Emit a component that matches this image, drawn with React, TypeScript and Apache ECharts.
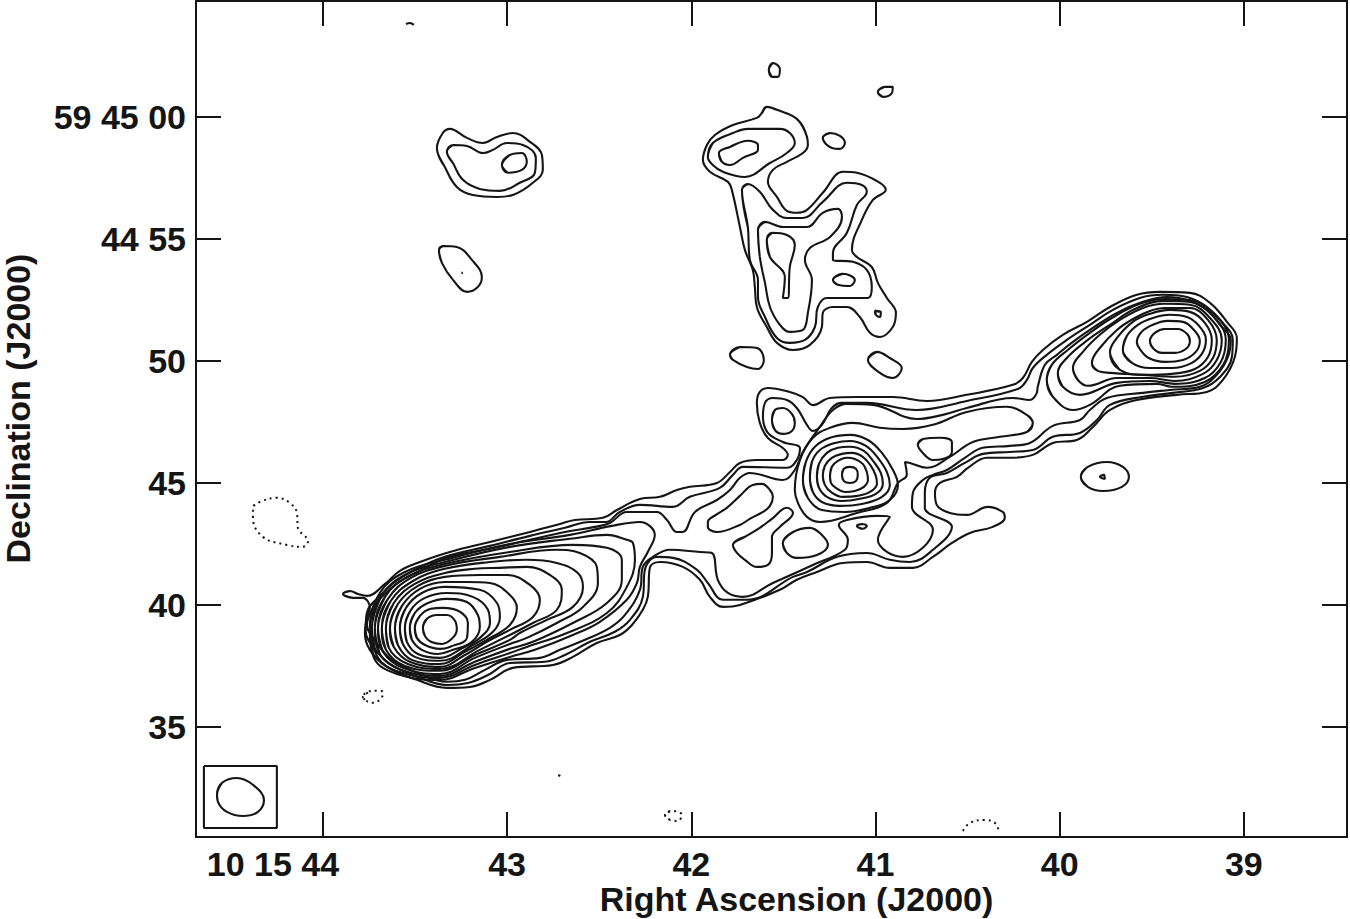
import React, { useEffect, useRef } from "react";
import * as echarts from "echarts";

type P = [number, number];

const raTicks = [44, 43, 42, 41, 40, 39];
const raTickLabels = ["10 15 44", "43", "42", "41", "40", "39"];
const decTicks = [60, 55, 50, 45, 40, 35];
const decTickLabels = ["59 45 00", "44 55", "50", "45", "40", "35"];

// Coordinates: [RA seconds past 10 15 00, Dec arcsec past 59 44 00]
const outerContour1: P[] = [[43.891,40.45],[43.853,40.57],[43.81,40.45],[43.761,40.37],[43.663,40.86],[43.582,41.4],[43.473,41.76],[43.311,42.17],[43.093,42.58],[42.876,42.99],[42.713,43.32],[42.632,43.48],[42.48,43.57],[42.404,43.89],[42.279,44.34],[42.17,44.43],[42.078,44.71],[42.008,44.84],[41.861,45],[41.79,45.45],[41.736,45.82],[41.644,45.94],[41.503,45.94],[41.476,46.15],[41.503,46.43],[41.584,46.84],[41.628,47.46],[41.644,48.28],[41.628,48.73],[41.584,48.89],[41.465,48.73],[41.394,48.52],[41.34,48.19],[41.247,48.48],[41.101,48.52],[40.906,48.52],[40.721,48.36],[40.504,48.61],[40.254,49.02],[40.2,49.3],[40.151,49.96],[40.091,50.45],[39.983,51.07],[39.852,51.6],[39.727,52.21],[39.581,52.71],[39.456,52.83],[39.293,52.79],[39.184,52.38],[39.092,51.6],[39.038,50.94],[39.049,50.16],[39.114,49.22],[39.201,48.73],[39.364,48.61],[39.581,48.4],[39.727,47.99],[39.82,47.29],[39.907,46.76],[40.037,46.64],[40.146,46.15],[40.27,46.03],[40.395,46.03],[40.498,45.62],[40.558,45.25],[40.65,45],[40.677,44.59],[40.667,44.1],[40.596,43.77],[40.504,43.69],[40.39,44.02],[40.309,43.81],[40.298,43.57],[40.363,43.2],[40.487,42.95],[40.585,42.54],[40.688,41.97],[40.797,41.52],[40.922,41.52],[41.047,41.76],[41.177,41.72],[41.318,41.35],[41.427,41.03],[41.519,40.62],[41.736,40],[41.828,39.92],[41.899,40.33],[41.953,41.03],[42.046,41.56],[42.17,41.76],[42.225,41.52],[42.236,40.33],[42.263,39.8],[42.322,39.18],[42.388,38.77],[42.513,38.44],[42.643,37.87],[42.751,37.54],[42.968,37.42],[43.093,36.93],[43.202,36.64],[43.327,36.6],[43.49,36.93],[43.653,37.46],[43.745,38.16],[43.772,38.85],[43.761,39.51],[43.745,39.88],[43.783,40.29],[43.837,40.29]];

const outerContour2: P[] = [[43.767,39.18],[43.756,39.8],[43.701,40.29],[43.609,40.94],[43.501,41.44],[43.338,41.97],[43.093,42.42],[42.876,42.83],[42.686,43.16],[42.55,43.4],[42.464,43.4],[42.388,43.81],[42.279,44.1],[42.1,44.02],[42.008,44.43],[41.845,44.8],[41.774,45.33],[41.72,45.66],[41.481,45.62],[41.427,45.94],[41.41,46.43],[41.503,46.68],[41.584,47.05],[41.611,47.71],[41.6,48.28],[41.557,48.48],[41.481,48.4],[41.427,48.07],[41.372,47.38],[41.34,47.13],[41.291,47.38],[41.237,48.07],[41.182,48.28],[41.047,48.28],[40.776,47.99],[40.504,48.36],[40.227,48.85],[40.178,49.22],[40.146,49.71],[40.07,50.25],[39.961,50.86],[39.836,51.48],[39.711,52.09],[39.565,52.58],[39.44,52.71],[39.309,52.62],[39.201,52.21],[39.114,51.56],[39.06,50.86],[39.065,50.16],[39.13,49.34],[39.222,48.89],[39.386,48.69],[39.548,48.53],[39.727,48.2],[39.798,47.58],[39.89,47.05],[40.037,46.89],[40.146,46.35],[40.27,46.27],[40.417,46.19],[40.515,45.82],[40.612,45.41],[40.705,45.21],[40.732,44.59],[40.732,43.98],[40.585,43.2],[40.688,42.26],[40.813,41.76],[40.922,41.85],[41.047,42.13],[41.209,41.97],[41.372,41.35],[41.448,41.15],[41.698,40.21],[41.828,40.21],[41.91,40.9],[41.969,41.44],[42.1,41.93],[42.187,41.97],[42.252,41.44],[42.263,40.33],[42.333,39.39],[42.415,38.9],[42.55,38.49],[42.686,37.95],[42.795,37.67],[42.985,37.62],[43.104,37.13],[43.213,36.8],[43.327,36.72],[43.484,37.05],[43.636,37.58],[43.723,38.24],[43.767,38.9]];

const outerContour3: P[] = [[43.761,39.18],[43.734,39.8],[43.68,40.33],[43.593,40.9],[43.484,41.35],[43.327,41.93],[43.093,42.3],[42.876,42.67],[42.686,42.99],[42.523,43.2],[42.442,43.36],[42.35,43.81],[42.187,43.81],[42.132,43.48],[42.078,42.99],[42.046,42.99],[41.98,43.81],[41.861,44.3],[41.79,44.71],[41.736,45.21],[41.682,45.41],[41.503,45.12],[41.438,45.53],[41.394,46.27],[41.302,47.3],[41.231,47.99],[41.155,48.24],[41.014,48.2],[40.775,47.62],[40.634,47.79],[40.504,48.07],[40.254,48.48],[40.162,48.4],[40.124,48.69],[40.119,48.94],[40.08,49.84],[40.015,50.25],[39.928,50.78],[39.82,51.35],[39.689,51.97],[39.548,52.42],[39.418,52.62],[39.309,52.5],[39.201,52.09],[39.13,51.48],[39.071,50.86],[39.087,50.16],[39.147,49.43],[39.239,48.94],[39.402,48.81],[39.548,48.69],[39.744,48.48],[39.836,47.99],[39.89,47.58],[40.037,47.34],[40.162,46.64],[40.27,46.52],[40.417,46.44],[40.515,46.03],[40.612,45.53],[40.688,45.33],[40.743,45.12],[40.797,44.59],[40.802,44.02],[40.688,43.08],[40.743,42.34],[40.851,41.97],[40.938,42.17],[40.987,42.67],[40.922,43.61],[40.992,43.65],[41.155,43.48],[41.199,43.28],[41.15,42.67],[41.166,42.26],[41.34,41.64],[41.557,40.9],[41.72,40.33],[41.801,40.49],[41.856,41.03],[41.888,42.13],[41.953,42.17],[42.116,42.26],[42.208,41.97],[42.263,41.56],[42.279,40.62],[42.36,39.59],[42.442,39.06],[42.577,38.57],[42.713,38.16],[42.822,37.83],[43.001,37.75],[43.12,37.34],[43.229,36.93],[43.327,36.85],[43.473,37.17],[43.625,37.75],[43.701,38.36],[43.75,38.9]];

const ridgeAndCore: P[] = [[40.146,47.46],[40.178,47.09],[40.325,46.89],[40.471,46.68],[40.596,46.07],[40.721,45.62],[40.813,45.82],[40.84,45.86],[40.83,45.33],[40.878,45],[40.938,44.18],[41.101,43.77],[41.302,43.4],[41.372,43.61],[41.421,44.18],[41.438,44.71],[41.41,45.94],[41.34,46.85],[41.247,47.26],[41.123,47.46],[40.976,47.26],[40.851,47.21],[40.688,47.38],[40.504,47.91],[40.287,48.12],[40.178,47.79]];

const coreRing1: P[] = [[41.182,45.33],[41.172,45.58],[41.139,45.66],[41.106,45.58],[41.096,45.33],[41.106,45.08],[41.139,45],[41.172,45.08]];
const coreRing2: P[] = [[41.247,45.29],[41.237,45.66],[41.204,45.9],[41.155,46.03],[41.112,45.98],[41.069,45.78],[41.047,45.45],[41.041,45.12],[41.063,44.84],[41.112,44.67],[41.166,44.63],[41.215,44.8],[41.242,45]];
const coreRing3: P[] = [[41.286,45.29],[41.275,45.7],[41.237,46.03],[41.182,46.19],[41.128,46.23],[41.069,46.07],[41.025,45.7],[40.998,45.29],[40.992,44.96],[41.03,44.63],[41.096,44.47],[41.177,44.43],[41.242,44.63],[41.275,44.92]];
const coreRing4: P[] = [[41.318,45.25],[41.307,45.78],[41.264,46.23],[41.204,46.44],[41.139,46.48],[41.063,46.31],[41.009,45.86],[40.971,45.41],[40.96,44.96],[40.998,44.55],[41.085,44.35],[41.182,44.26],[41.264,44.43],[41.307,44.8]];
const coreRing5: P[] = [[41.356,45.21],[41.345,45.86],[41.302,46.35],[41.22,46.64],[41.139,46.72],[41.052,46.52],[40.987,46.03],[40.938,45.45],[40.922,44.92],[40.965,44.43],[41.074,44.14],[41.193,44.06],[41.291,44.22],[41.34,44.63]];
const coreRing6: P[] = [[41.394,45.12],[41.378,45.86],[41.329,46.48],[41.247,46.85],[41.139,46.97],[41.041,46.76],[40.965,46.23],[40.905,45.53],[40.878,44.92],[40.922,44.3],[41.03,43.98],[41.166,43.81],[41.291,43.89],[41.367,44.38]];

const islandA: P[] = [[41.91,43.4],[41.866,43.69],[41.807,43.98],[41.736,44.47],[41.666,44.92],[41.617,44.96],[41.573,44.71],[41.557,44.43],[41.573,44.06],[41.611,43.81],[41.682,43.53],[41.736,43.28],[41.861,42.99],[41.91,43.19]];
const islandB: P[] = [[41.774,42.46],[41.709,42.79],[41.628,43.16],[41.562,43.53],[41.481,43.98],[41.448,43.77],[41.519,43.2],[41.562,42.79],[41.562,42.13],[41.584,41.64],[41.644,41.56],[41.709,41.85],[41.752,42.13]];
const islandC: P[] = [[41.503,42.54],[41.448,42.99],[41.356,43.16],[41.291,42.87],[41.258,42.46],[41.318,42.05],[41.427,41.93],[41.481,42.13]];
const islandRing: P[] = [[41.562,47.58],[41.546,47.99],[41.503,48.07],[41.454,47.83],[41.438,47.46],[41.454,47.13],[41.503,47.01],[41.546,47.17]];
const islandD: P[] = [[40.77,46.56],[40.743,46.8],[40.65,46.85],[40.585,46.68],[40.585,46.27],[40.634,45.98],[40.688,45.94],[40.743,46.23]];
const islandTiny: P[] = [[41.101,43.24],[41.074,43.32],[41.047,43.24],[41.069,43.12]];

const leftRing1: P[] = [[43.457,39.06],[43.435,39.43],[43.381,39.59],[43.327,39.59],[43.283,39.35],[43.273,38.98],[43.3,38.61],[43.354,38.4],[43.414,38.49],[43.446,38.73]];
const leftRing2: P[] = [[43.501,39.06],[43.473,39.55],[43.414,39.84],[43.349,39.88],[43.256,39.72],[43.213,39.26],[43.218,38.65],[43.311,38.28],[43.365,38.2],[43.446,38.36],[43.49,38.65]];
const leftRing3: P[] = [[43.528,39.06],[43.501,39.67],[43.43,40.08],[43.327,40.25],[43.218,40.12],[43.159,39.59],[43.148,39.1],[43.191,38.49],[43.294,38.16],[43.376,37.99],[43.463,38.16],[43.517,38.57]];
const leftRing4: P[] = [[43.555,39.06],[43.522,39.8],[43.446,40.29],[43.327,40.49],[43.186,40.33],[43.104,39.8],[43.093,39.26],[43.148,38.65],[43.24,38.24],[43.365,37.83],[43.484,37.99],[43.544,38.49]];
const leftRing5: P[] = [[43.582,39.06],[43.549,39.88],[43.463,40.49],[43.338,40.74],[43.148,40.62],[43.055,40.08],[43.039,39.51],[43.077,38.9],[43.186,38.36],[43.365,37.71],[43.501,37.87],[43.566,38.4]];
const leftRing6: P[] = [[43.609,39.06],[43.571,39.96],[43.473,40.66],[43.338,40.94],[43.218,40.94],[43.093,40.9],[42.985,40.41],[42.947,39.88],[42.985,39.18],[43.11,38.57],[43.229,38.08],[43.365,37.58],[43.517,37.75],[43.593,38.36]];
const leftRing7: P[] = [[43.636,39.06],[43.593,40.04],[43.484,40.78],[43.338,41.15],[43.148,41.23],[43.001,41.23],[42.876,40.82],[42.822,40.21],[42.86,39.51],[42.985,38.98],[43.11,38.49],[43.229,37.95],[43.365,37.46],[43.528,37.67],[43.615,38.28]];
const leftRing8: P[] = [[43.658,39.06],[43.615,40.08],[43.501,40.86],[43.338,41.31],[43.175,41.48],[43.039,41.52],[42.893,41.56],[42.768,41.23],[42.703,40.62],[42.73,39.8],[42.86,39.26],[42.985,38.77],[43.148,38.16],[43.365,37.38],[43.539,37.58],[43.642,38.24]];
const leftRing9: P[] = [[43.68,39.06],[43.631,40.17],[43.511,40.98],[43.338,41.48],[43.093,41.76],[42.893,41.85],[42.73,41.72],[42.616,41.31],[42.588,40.74],[42.643,39.92],[42.784,39.39],[42.931,38.85],[42.985,38.57],[43.175,37.95],[43.365,37.3],[43.555,37.5],[43.658,38.16]];
const leftRing10: P[] = [[43.701,39.06],[43.647,40.25],[43.522,41.11],[43.338,41.6],[43.039,41.97],[42.73,42.26],[42.605,42.13],[42.513,41.56],[42.507,40.9],[42.588,39.92],[42.73,39.26],[42.893,38.65],[42.985,38.4],[43.175,37.83],[43.365,37.17],[43.566,37.42],[43.674,38.08]];
const leftRing11: P[] = [[43.718,39.06],[43.663,40.33],[43.533,41.19],[43.338,41.68],[42.985,42.17],[42.643,42.46],[42.458,42.34],[42.377,41.85],[42.377,41.03],[42.458,40.08],[42.643,39.26],[42.86,38.49],[42.985,38.2],[43.175,37.67],[43.365,37.09],[43.577,37.34],[43.691,37.99]];
const leftRing12: P[] = [[43.734,39.06],[43.68,40.41],[43.544,41.27],[43.338,41.76],[42.985,42.38],[42.659,42.71],[42.458,42.87],[42.35,42.67],[42.317,42.54],[42.306,41.85],[42.35,40.74],[42.458,39.67],[42.675,38.85],[42.893,38.28],[42.985,38.03],[43.175,37.54],[43.365,37.01],[43.587,37.26],[43.707,37.91]];
const leftRing13: P[] = [[43.745,39.06],[43.691,40.49],[43.555,41.35],[43.338,41.85],[42.985,42.5],[42.659,42.87],[42.431,43.24],[42.279,43.4],[42.198,42.87],[42.236,42.17],[42.279,41.56],[42.295,40.9],[42.35,40.21],[42.496,39.31],[42.643,38.77],[42.849,38.16],[42.985,37.87],[43.175,37.42],[43.365,36.93],[43.598,37.17],[43.723,37.83]];

const rightRing1: P[] = [[39.51,50.82],[39.483,51.15],[39.429,51.31],[39.358,51.31],[39.309,51.11],[39.293,50.82],[39.315,50.49],[39.375,50.33],[39.445,50.33],[39.489,50.49]];
const rightRing2: P[] = [[39.581,50.78],[39.554,51.2],[39.494,51.48],[39.413,51.64],[39.331,51.6],[39.271,51.27],[39.239,50.82],[39.261,50.37],[39.331,50.04],[39.429,49.96],[39.516,50.12],[39.565,50.49]];
const rightRing3: P[] = [[39.657,50.45],[39.635,51.03],[39.575,51.48],[39.494,51.76],[39.402,51.89],[39.309,51.8],[39.244,51.44],[39.206,50.86],[39.228,50.29],[39.293,49.88],[39.391,49.71],[39.51,49.71],[39.608,49.92]];
const rightRing4: P[] = [[39.727,50.37],[39.689,50.94],[39.603,51.6],[39.51,51.93],[39.402,52.09],[39.293,52.01],[39.212,51.56],[39.174,50.86],[39.195,50.16],[39.266,49.67],[39.391,49.47],[39.538,49.43],[39.673,49.63]];
const rightRing5: P[] = [[39.825,49.92],[39.782,50.53],[39.689,51.27],[39.592,51.76],[39.51,52.05],[39.429,52.17],[39.293,52.17],[39.195,51.68],[39.147,50.86],[39.168,50.12],[39.239,49.59],[39.375,49.35],[39.548,49.43],[39.727,49.51],[39.793,49.59]];
const rightRing6: P[] = [[39.928,49.71],[39.874,50.37],[39.782,51.07],[39.673,51.68],[39.548,52.17],[39.429,52.34],[39.293,52.3],[39.184,51.76],[39.12,50.86],[39.147,50.04],[39.222,49.47],[39.375,49.18],[39.51,49.3],[39.689,49.3],[39.847,48.98],[39.901,49.22]];
const rightRing7: P[] = [[40.01,49.51],[39.956,50.16],[39.847,50.86],[39.727,51.48],[39.592,52.13],[39.429,52.46],[39.293,52.42],[39.174,51.89],[39.098,50.86],[39.125,49.96],[39.212,49.3],[39.375,49.06],[39.51,49.18],[39.689,49.1],[39.89,48.61],[39.983,48.94]];
const rightRing8: P[] = [[40.07,49.22],[40.043,49.84],[39.956,50.45],[39.836,51.15],[39.717,51.76],[39.565,52.34],[39.429,52.54],[39.293,52.5],[39.168,51.97],[39.081,50.86],[39.109,49.88],[39.212,49.14],[39.391,48.94],[39.472,49.06],[39.673,48.98],[39.836,48.2],[39.928,47.99],[40.037,48.53]];

const upperOuter: P[] = [[41.59,60.41],[41.535,60.29],[41.427,59.92],[41.372,59.18],[41.367,58.85],[41.394,58.52],[41.481,58.16],[41.557,57.83],[41.584,57.34],[41.535,56.72],[41.481,56.15],[41.427,56.07],[41.372,56.19],[41.286,56.89],[41.177,57.75],[41.101,57.71],[40.976,57.3],[40.944,57.01],[41.014,56.6],[41.074,55.78],[41.128,54.55],[41.101,54.26],[41.02,53.85],[40.987,53.2],[40.938,52.58],[40.889,51.97],[40.906,51.39],[40.976,50.98],[41.03,51.15],[41.085,51.8],[41.155,52.21],[41.231,52.21],[41.286,51.97],[41.291,51.39],[41.356,50.66],[41.448,50.45],[41.535,50.74],[41.59,51.39],[41.644,52.21],[41.655,53.03],[41.666,53.73],[41.709,54.55],[41.736,55.49],[41.78,57.01],[41.801,57.34],[41.899,57.75],[41.937,58.24],[41.915,58.85],[41.872,59.26],[41.774,59.67],[41.644,59.96],[41.617,60.16]];
const upperBlobMiddle: P[] = [[41.91,58.36],[41.883,58.93],[41.774,59.34],[41.693,59.51],[41.519,59.51],[41.465,59.34],[41.438,58.93],[41.481,58.52],[41.573,58.11],[41.709,57.54],[41.828,57.75],[41.883,58.03]];
const upperBlobInner: P[] = [[41.85,58.52],[41.79,58.77],[41.693,59.02],[41.638,58.85],[41.638,58.65],[41.72,58.32],[41.79,58.03],[41.834,58.16]];
const upperRidge: P[] = [[41.725,57.01],[41.693,57.25],[41.628,56.93],[41.557,56.19],[41.481,55.86],[41.394,55.86],[41.286,56.52],[41.155,57.3],[41.074,57.21],[41.047,56.93],[41.101,56.39],[41.155,55.25],[41.231,54.43],[41.231,54.14],[41.123,54.06],[41.047,53.73],[41.02,53.03],[41.041,52.58],[41.155,52.58],[41.264,52.58],[41.313,52.21],[41.329,51.39],[41.383,50.86],[41.465,50.74],[41.535,50.94],[41.6,51.8],[41.638,52.62],[41.638,53.32],[41.682,54.14],[41.693,55.49]];
const upperInner: P[] = [[41.638,55.37],[41.6,55.7],[41.503,55.49],[41.372,55.49],[41.286,56.07],[41.204,56.23],[41.182,55.9],[41.247,55.08],[41.356,54.63],[41.383,54.14],[41.345,53.32],[41.367,51.97],[41.394,51.27],[41.465,51.19],[41.519,51.48],[41.573,52.21],[41.6,53.2],[41.628,54.26]];
const upperCentre: P[] = [[41.59,54.96],[41.562,55.25],[41.481,55.16],[41.438,54.75],[41.465,53.85],[41.476,52.58],[41.503,52.58],[41.492,53.44],[41.573,54.26]];
const upperOval: P[] = [[41.231,53.32],[41.177,53.57],[41.112,53.32],[41.139,53.07],[41.204,53.12]];
const pinchUpper: P[] = [[41.003,52.05],[40.971,52.01],[40.976,51.8],[40.998,51.89]];
const northPatch: P[] = [[41.579,61.93],[41.557,62.21],[41.519,61.97],[41.53,61.64],[41.562,61.64]];
const northRight: P[] = [[40.987,61.02],[40.949,61.23],[40.906,61.23],[40.911,60.98],[40.96,60.82]];
const northMiddle: P[] = [[41.286,59.14],[41.247,59.34],[41.193,59.22],[41.166,58.93],[41.193,58.69],[41.237,58.73],[41.269,58.89]];
const ovalLowerLeft: P[] = [[41.79,50.25],[41.736,50.57],[41.644,50.53],[41.606,50.04],[41.638,49.67],[41.698,49.75],[41.774,50.04]];
const ovalLowerRight: P[] = [[41.041,50.04],[40.992,50.37],[40.922,50.12],[40.857,49.71],[40.906,49.3],[40.976,49.51]];

const nwOuter: P[] = [[43.381,58.73],[43.349,59.34],[43.311,59.51],[43.218,59.14],[43.131,58.93],[43.055,59.18],[42.969,59.34],[42.876,58.98],[42.811,58.44],[42.806,57.83],[42.86,57.3],[42.969,56.8],[43.055,56.72],[43.186,56.8],[43.273,57.13],[43.338,57.95]];
const nwMiddle: P[] = [[43.327,58.57],[43.294,58.85],[43.218,58.81],[43.131,58.52],[43.077,58.65],[43.001,58.93],[42.914,58.85],[42.844,58.32],[42.849,57.71],[42.931,57.3],[43.039,56.97],[43.148,57.05],[43.24,57.42],[43.294,58.11]];
const nwInner: P[] = [[43.028,58.03],[42.985,58.44],[42.92,58.52],[42.893,58.16],[42.92,57.83],[42.996,57.71]];
const teardrop: P[] = [[43.37,54.55],[43.349,54.71],[43.273,54.67],[43.191,54.14],[43.137,53.44],[43.159,53.03],[43.218,52.83],[43.294,53.32],[43.354,54.02]];
const eastOval: P[] = [[39.885,45.25],[39.847,45.66],[39.744,45.86],[39.657,45.66],[39.624,45.25],[39.662,44.84],[39.765,44.67],[39.847,44.84]];
const eastOvalDot: P[] = [[39.782,45.25],[39.76,45.33],[39.755,45.16]];

const teardropDot: P[] = [[43.248,53.61],[43.24,53.61]];
const topSpeck: P[] = [[43.549,63.81],[43.528,63.85],[43.506,63.77]];
const southSpeck: P[] = [[42.722,33.03],[42.711,32.99]];

const negativeWest: P[] = [[44.38,43.98],[44.342,44.22],[44.25,44.39],[44.179,44.18],[44.141,43.77],[44.136,43.16],[44.081,42.62],[44.109,42.38],[44.195,42.46],[44.326,42.79],[44.38,43.57]];
const negativeBelowLobe: P[] = [[43.783,36.23],[43.734,36.48],[43.674,36.44],[43.685,36.15],[43.734,35.99],[43.772,36.11]];
const negativeSouthMiddle: P[] = [[42.143,31.4],[42.105,31.56],[42.051,31.4],[42.073,31.15],[42.116,31.19]];
const negativeSouthEdge: P[] = [[40.525,30.74],[40.487,31.07],[40.406,31.19],[40.352,31.07],[40.33,30.74]];

const beamBox: P[] = [[44.646,33.4],[44.25,33.4],[44.25,30.86],[44.646,30.86],[44.646,33.4]];
const beamEllipse: P[] = [[44.575,32.22],[44.548,32.71],[44.467,32.91],[44.38,32.63],[44.32,32.01],[44.353,31.52],[44.434,31.35],[44.521,31.52],[44.57,31.93]];

const closedContours: P[][] = [
  outerContour1, outerContour2, outerContour3, ridgeAndCore,
  coreRing1, coreRing2, coreRing3, coreRing4, coreRing5, coreRing6,
  islandA, islandB, islandC, islandRing, islandD, islandTiny,
  leftRing1, leftRing2, leftRing3, leftRing4, leftRing5, leftRing6, leftRing7,
  leftRing8, leftRing9, leftRing10, leftRing11, leftRing12, leftRing13,
  rightRing1, rightRing2, rightRing3, rightRing4, rightRing5, rightRing6, rightRing7, rightRing8,
  upperOuter, upperBlobMiddle, upperBlobInner, upperRidge, upperInner, upperCentre, upperOval,
  pinchUpper, northPatch, northRight, northMiddle, ovalLowerLeft, ovalLowerRight,
  nwOuter, nwMiddle, nwInner, teardrop, eastOval, eastOvalDot, beamEllipse,
];
const specks: P[][] = [teardropDot, topSpeck, southSpeck];
const negativeContours: P[][] = [negativeWest, negativeBelowLobe, negativeSouthMiddle];
const openNegativeContours: P[][] = [negativeSouthEdge];

const INK = "#151515";
const FONT = "'Liberation Sans', Arial, sans-serif";

// Wrap a ring one point past each end so the smoothing has no corner at the seam.
const wrapLoop = (pts: P[]): P[] => [pts[pts.length - 1], ...pts, pts[0], pts[1]];

const contourSeries = (pts: P[], dotted: boolean, smooth: number | boolean = 0.4) => ({
  type: "line",
  data: pts,
  smooth,
  symbol: "none",
  silent: true,
  clip: false,
  lineStyle: dotted
    ? { color: INK, width: 2, type: [2, 4] as number[] }
    : { color: INK, width: 2.1 },
});

export default function App() {
  const ref = useRef<HTMLDivElement>(null);
  useEffect(() => {
    const chart = echarts.init(ref.current!, undefined, { renderer: "svg" });
    const baseX = { type: "value", inverse: true, min: 38.44, max: 44.689, scale: true, splitLine: { show: false } };
    const baseY = { type: "value", min: 30.49, max: 64.75, scale: true, splitLine: { show: false } };
    const line = { show: true, onZero: false, lineStyle: { color: INK, width: 2 } };
    const tick = { show: true, inside: true, length: 25, lineStyle: { color: INK, width: 2 } };
    chart.setOption({
      animation: false,
      backgroundColor: "#fff",
      grid: { left: 196, right: 3, top: 1, bottom: 82, containLabel: false, outerBoundsMode: "none" },
      xAxis: [
        {
          ...baseX,
          position: "bottom",
          axisLine: line,
          axisTick: { ...tick, customValues: raTicks },
          axisLabel: {
            show: true,
            customValues: raTicks,
            margin: 10,
            fontFamily: FONT,
            fontWeight: "bold",
            fontSize: 34,
            color: INK,
            formatter: (v: number) => {
              const t = raTickLabels[raTicks.indexOf(Math.round(v))] ?? "";
              return t.length > 2 ? `{first|${t}}` : t;
            },
            rich: { first: { fontFamily: FONT, fontWeight: "bold", fontSize: 34, color: INK, padding: [0, 100, 0, 0] } },
          },
          name: "Right Ascension (J2000)",
          nameLocation: "middle",
          nameGap: 45,
          nameMoveOverlap: false,
          nameTextStyle: { fontFamily: FONT, fontWeight: "bold", fontSize: 34, color: INK, padding: [0, 0, 0, 50] },
        },
        {
          ...baseX,
          position: "top",
          axisLine: line,
          axisTick: { ...tick, customValues: raTicks },
          axisLabel: { show: false },
        },
      ],
      yAxis: [
        {
          ...baseY,
          position: "left",
          axisLine: line,
          axisTick: { ...tick, customValues: decTicks },
          axisLabel: {
            show: true,
            customValues: decTicks,
            margin: 10,
            fontFamily: FONT,
            fontWeight: "bold",
            fontSize: 34,
            color: INK,
            formatter: (v: number) => decTickLabels[decTicks.indexOf(Math.round(v))] ?? "",
          },
          name: "Declination (J2000)",
          nameLocation: "middle",
          nameGap: 161,
          nameMoveOverlap: false,
          nameTextStyle: { fontFamily: FONT, fontWeight: "bold", fontSize: 34, color: INK, padding: [0, 0, 0, 21] },
        },
        {
          ...baseY,
          position: "right",
          axisLine: line,
          axisTick: { ...tick, customValues: decTicks },
          axisLabel: { show: false },
        },
      ],
      series: [
        ...closedContours.map((c) => contourSeries(wrapLoop(c), false)),
        ...specks.map((c) => contourSeries(c, false)),
        ...negativeContours.map((c) => contourSeries(wrapLoop(c), true)),
        ...openNegativeContours.map((c) => contourSeries(c, true)),
        contourSeries(beamBox, false, false),
      ],
    });
    return () => chart.dispose();
  }, []);
  return <div ref={ref} style={{ position: "absolute", left: 0, top: 0, width: 1350, height: 919 }} />;
}
